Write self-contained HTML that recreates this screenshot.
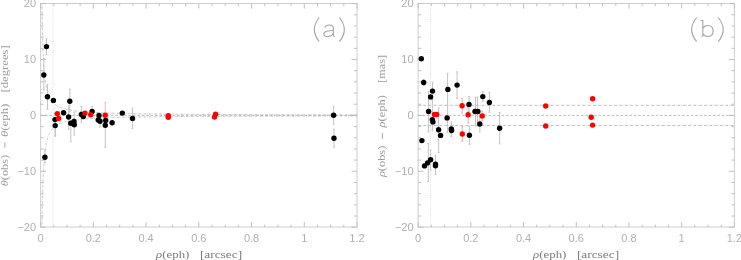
<!DOCTYPE html>
<html><head><meta charset="utf-8"><style>
html,body{margin:0;padding:0;background:#fff;}
svg{display:block;will-change:transform;}
.tl{font-family:"Liberation Sans",sans-serif;font-size:11px;fill:#b0b0b0;}
.al{font-family:"Liberation Serif",serif;font-size:11.4px;fill:#7c7c7c;}
.al2{font-family:"Liberation Serif",serif;font-size:11.4px;fill:#9c9c9c;}
.pl{font-family:"Liberation Serif",serif;font-size:26px;fill:#b0b0b0;}
</style></head><body>
<svg width="741" height="260" viewBox="0 0 741 260">
<rect width="741" height="260" fill="#fff"/>
<clipPath id="ca"><rect x="40.6" y="3.6" width="316.4" height="223.6"/></clipPath>
<clipPath id="cb"><rect x="418.1" y="3.6" width="316.29999999999995" height="223.6"/></clipPath>
<rect x="40.6" y="3.5" width="316.4" height="223.5" fill="none" stroke="#cecece" stroke-width="1"/>
<path d="M40.60 227.2v-5M40.60 3.6v5M53.78 227.2v-2.5M53.78 3.6v2.5M66.97 227.2v-2.5M66.97 3.6v2.5M80.15 227.2v-2.5M80.15 3.6v2.5M93.33 227.2v-5M93.33 3.6v5M106.52 227.2v-2.5M106.52 3.6v2.5M119.70 227.2v-2.5M119.70 3.6v2.5M132.88 227.2v-2.5M132.88 3.6v2.5M146.07 227.2v-5M146.07 3.6v5M159.25 227.2v-2.5M159.25 3.6v2.5M172.43 227.2v-2.5M172.43 3.6v2.5M185.62 227.2v-2.5M185.62 3.6v2.5M198.80 227.2v-5M198.80 3.6v5M211.98 227.2v-2.5M211.98 3.6v2.5M225.17 227.2v-2.5M225.17 3.6v2.5M238.35 227.2v-2.5M238.35 3.6v2.5M251.53 227.2v-5M251.53 3.6v5M264.72 227.2v-2.5M264.72 3.6v2.5M277.90 227.2v-2.5M277.90 3.6v2.5M291.08 227.2v-2.5M291.08 3.6v2.5M304.27 227.2v-5M304.27 3.6v5M317.45 227.2v-2.5M317.45 3.6v2.5M330.63 227.2v-2.5M330.63 3.6v2.5M343.82 227.2v-2.5M343.82 3.6v2.5M357.00 227.2v-5M357.00 3.6v5M40.6 227.20h5.5M357.0 227.20h-5.5M40.6 216.02h3M357.0 216.02h-3M40.6 204.84h3M357.0 204.84h-3M40.6 193.66h3M357.0 193.66h-3M40.6 182.48h3M357.0 182.48h-3M40.6 171.30h5.5M357.0 171.30h-5.5M40.6 160.12h3M357.0 160.12h-3M40.6 148.94h3M357.0 148.94h-3M40.6 137.76h3M357.0 137.76h-3M40.6 126.58h3M357.0 126.58h-3M40.6 115.40h5.5M357.0 115.40h-5.5M40.6 104.22h3M357.0 104.22h-3M40.6 93.04h3M357.0 93.04h-3M40.6 81.86h3M357.0 81.86h-3M40.6 70.68h3M357.0 70.68h-3M40.6 59.50h5.5M357.0 59.50h-5.5M40.6 48.32h3M357.0 48.32h-3M40.6 37.14h3M357.0 37.14h-3M40.6 25.96h3M357.0 25.96h-3M40.6 14.78h3M357.0 14.78h-3M40.6 3.60h5.5M357.0 3.60h-5.5" stroke="#c0c0c0" stroke-width="1" fill="none"/>
<text x="40.60" y="241.8" class="tl" text-anchor="middle">0</text>
<text x="93.33" y="241.8" class="tl" text-anchor="middle">0.2</text>
<text x="146.07" y="241.8" class="tl" text-anchor="middle">0.4</text>
<text x="198.80" y="241.8" class="tl" text-anchor="middle">0.6</text>
<text x="251.53" y="241.8" class="tl" text-anchor="middle">0.8</text>
<text x="304.27" y="241.8" class="tl" text-anchor="middle">1</text>
<text x="357.00" y="241.8" class="tl" text-anchor="middle">1.2</text>
<text x="36.10" y="7.40" class="tl" text-anchor="end">20</text>
<text x="36.10" y="63.30" class="tl" text-anchor="end">10</text>
<text x="36.10" y="119.20" class="tl" text-anchor="end">0</text>
<text x="36.10" y="175.10" class="tl" text-anchor="end">−10</text>
<text x="36.10" y="231.00" class="tl" text-anchor="end">−20</text>
<g clip-path="url(#ca)">
<line x1="52.99" y1="3.6" x2="52.99" y2="227.2" stroke="#d4d4d4" stroke-width="0.8" stroke-dasharray="1 1.2"/>
<line x1="40.6" y1="115.40" x2="357.0" y2="115.40" stroke="#b4b4b4" stroke-width="0.9" stroke-dasharray="2.6 1.8"/>
<polyline points="41.99,0.81 42.02,3.05 42.05,5.25 42.07,7.41 42.10,9.53 42.13,11.61 42.16,13.64 42.20,15.64 42.23,17.59 42.26,19.51 42.29,21.39 42.33,23.24 42.36,25.04 42.40,26.81 42.43,28.55 42.47,30.25 42.51,31.92 42.55,33.56 42.58,35.17 42.62,36.74 42.66,38.28 42.71,39.79 42.75,41.28 42.79,42.73 42.83,44.15 42.88,45.55 42.92,46.92 42.97,48.26 43.02,49.58 43.07,50.87 43.12,52.14 43.17,53.38 43.22,54.59 43.27,55.78 43.32,56.95 43.38,58.10 43.43,59.22 43.49,60.32 43.55,61.40 43.61,62.46 43.67,63.50 43.73,64.52 43.79,65.52 43.85,66.49 43.92,67.45 43.99,68.39 44.05,69.32 44.12,70.22 44.19,71.10 44.27,71.97 44.34,72.82 44.41,73.66 44.49,74.48 44.57,75.28 44.65,76.07 44.73,76.84 44.81,77.59 44.89,78.34 44.98,79.06 45.07,79.77 45.16,80.47 45.25,81.16 45.34,81.83 45.44,82.49 45.53,83.13 45.63,83.77 45.73,84.39 45.84,84.99 45.94,85.59 46.05,86.18 46.16,86.75 46.27,87.31 46.38,87.86 46.50,88.40 46.61,88.93 46.73,89.45 46.86,89.96 46.98,90.46 47.11,90.95 47.24,91.43 47.37,91.90 47.51,92.36 47.65,92.81 47.79,93.25 47.93,93.69 48.08,94.11 48.23,94.53 48.38,94.94 48.53,95.34 48.69,95.73 48.86,96.12 49.02,96.50 49.19,96.87 49.36,97.23 49.54,97.59 49.71,97.94 49.90,98.28 50.08,98.61 50.27,98.94 50.47,99.27 50.66,99.58 50.86,99.89 51.07,100.20 51.28,100.49 51.49,100.79 51.71,101.07 51.93,101.35 52.16,101.63 52.39,101.90 52.63,102.16 52.87,102.42 53.11,102.68 53.36,102.93 53.62,103.17 53.88,103.41 54.14,103.65 54.41,103.88 54.69,104.10 54.97,104.32 55.26,104.54 55.55,104.76 55.85,104.96 56.16,105.17 56.47,105.37 56.79,105.57 57.11,105.76 57.44,105.95 57.78,106.13 58.12,106.31 58.47,106.49 58.83,106.67 59.19,106.84 59.56,107.01 59.94,107.17 60.33,107.33 60.73,107.49 61.13,107.65 61.54,107.80 61.96,107.95 62.38,108.09 62.82,108.24 63.26,108.38 63.72,108.51 64.18,108.65 64.65,108.78 65.13,108.91 65.62,109.04 66.12,109.16 66.63,109.29 67.16,109.41 67.69,109.52 68.23,109.64 68.78,109.75 69.34,109.86 69.92,109.97 70.51,110.08 71.10,110.18 71.71,110.28 72.34,110.38 72.97,110.48 73.62,110.58 74.28,110.67 74.95,110.77 75.64,110.86 76.34,110.95 77.05,111.03 77.78,111.12 78.53,111.20 79.29,111.29 80.06,111.37 80.85,111.45 81.65,111.52 82.47,111.60 83.31,111.67 84.17,111.75 85.04,111.82 85.93,111.89 86.83,111.96 87.76,112.02 88.70,112.09 89.66,112.16 90.64,112.22 91.65,112.28 92.67,112.34 93.71,112.40 94.77,112.46 95.85,112.52 96.96,112.58 98.09,112.63 99.24,112.69 100.41,112.74 101.60,112.79 102.82,112.84 104.07,112.89 105.34,112.94 106.63,112.99 107.95,113.04 109.30,113.08 110.67,113.13 112.08,113.17 113.51,113.22 114.96,113.26 116.45,113.30 117.97,113.34 119.52,113.38 121.09,113.42 122.70,113.46 124.35,113.50 126.02,113.54 127.73,113.57 129.47,113.61 131.25,113.64 133.06,113.68 134.91,113.71 136.80,113.75 138.72,113.78 140.68,113.81 142.69,113.84 144.73,113.87 146.81,113.90 148.93,113.93 151.10,113.96 153.31,113.99 155.56,114.02 157.86,114.04 160.21,114.07 162.60,114.10 165.04,114.12 167.53,114.15 170.07,114.17 172.66,114.19 175.30,114.22 177.99,114.24 180.74,114.26 183.54,114.29 186.40,114.31 189.32,114.33 192.29,114.35 195.33,114.37 198.42,114.39 201.58,114.41 204.80,114.43 208.08,114.45 211.43,114.47 214.85,114.49 218.33,114.50 221.89,114.52 225.51,114.54 229.21,114.56 232.98,114.57 236.83,114.59 240.76,114.60 244.76,114.62 248.84,114.64 253.01,114.65 257.26,114.67 261.59,114.68 266.01,114.69 270.52,114.71 275.11,114.72 279.80,114.73 284.59,114.75 289.47,114.76 294.45,114.77 299.52,114.79 304.70,114.80 309.98,114.81 315.37,114.82 320.87,114.83 326.47,114.84 332.19,114.85 338.02,114.86 343.97,114.88 350.04,114.89 356.23,114.90 357.00,114.90" fill="none" stroke="#b4b4b4" stroke-width="0.8" stroke-dasharray="2.6 0.9 0.5 1.3"/>
<polyline points="41.99,229.99 42.02,227.75 42.05,225.55 42.07,223.39 42.10,221.27 42.13,219.19 42.16,217.16 42.20,215.16 42.23,213.21 42.26,211.29 42.29,209.41 42.33,207.56 42.36,205.76 42.40,203.99 42.43,202.25 42.47,200.55 42.51,198.88 42.55,197.24 42.58,195.63 42.62,194.06 42.66,192.52 42.71,191.01 42.75,189.52 42.79,188.07 42.83,186.65 42.88,185.25 42.92,183.88 42.97,182.54 43.02,181.22 43.07,179.93 43.12,178.66 43.17,177.42 43.22,176.21 43.27,175.02 43.32,173.85 43.38,172.70 43.43,171.58 43.49,170.48 43.55,169.40 43.61,168.34 43.67,167.30 43.73,166.28 43.79,165.28 43.85,164.31 43.92,163.35 43.99,162.41 44.05,161.48 44.12,160.58 44.19,159.70 44.27,158.83 44.34,157.98 44.41,157.14 44.49,156.32 44.57,155.52 44.65,154.73 44.73,153.96 44.81,153.21 44.89,152.46 44.98,151.74 45.07,151.03 45.16,150.33 45.25,149.64 45.34,148.97 45.44,148.31 45.53,147.67 45.63,147.03 45.73,146.41 45.84,145.81 45.94,145.21 46.05,144.62 46.16,144.05 46.27,143.49 46.38,142.94 46.50,142.40 46.61,141.87 46.73,141.35 46.86,140.84 46.98,140.34 47.11,139.85 47.24,139.37 47.37,138.90 47.51,138.44 47.65,137.99 47.79,137.55 47.93,137.11 48.08,136.69 48.23,136.27 48.38,135.86 48.53,135.46 48.69,135.07 48.86,134.68 49.02,134.30 49.19,133.93 49.36,133.57 49.54,133.21 49.71,132.86 49.90,132.52 50.08,132.19 50.27,131.86 50.47,131.53 50.66,131.22 50.86,130.91 51.07,130.60 51.28,130.31 51.49,130.01 51.71,129.73 51.93,129.45 52.16,129.17 52.39,128.90 52.63,128.64 52.87,128.38 53.11,128.12 53.36,127.87 53.62,127.63 53.88,127.39 54.14,127.15 54.41,126.92 54.69,126.70 54.97,126.48 55.26,126.26 55.55,126.04 55.85,125.84 56.16,125.63 56.47,125.43 56.79,125.23 57.11,125.04 57.44,124.85 57.78,124.67 58.12,124.49 58.47,124.31 58.83,124.13 59.19,123.96 59.56,123.79 59.94,123.63 60.33,123.47 60.73,123.31 61.13,123.15 61.54,123.00 61.96,122.85 62.38,122.71 62.82,122.56 63.26,122.42 63.72,122.29 64.18,122.15 64.65,122.02 65.13,121.89 65.62,121.76 66.12,121.64 66.63,121.51 67.16,121.39 67.69,121.28 68.23,121.16 68.78,121.05 69.34,120.94 69.92,120.83 70.51,120.72 71.10,120.62 71.71,120.52 72.34,120.42 72.97,120.32 73.62,120.22 74.28,120.13 74.95,120.03 75.64,119.94 76.34,119.85 77.05,119.77 77.78,119.68 78.53,119.60 79.29,119.51 80.06,119.43 80.85,119.35 81.65,119.28 82.47,119.20 83.31,119.13 84.17,119.05 85.04,118.98 85.93,118.91 86.83,118.84 87.76,118.78 88.70,118.71 89.66,118.64 90.64,118.58 91.65,118.52 92.67,118.46 93.71,118.40 94.77,118.34 95.85,118.28 96.96,118.22 98.09,118.17 99.24,118.11 100.41,118.06 101.60,118.01 102.82,117.96 104.07,117.91 105.34,117.86 106.63,117.81 107.95,117.76 109.30,117.72 110.67,117.67 112.08,117.63 113.51,117.58 114.96,117.54 116.45,117.50 117.97,117.46 119.52,117.42 121.09,117.38 122.70,117.34 124.35,117.30 126.02,117.26 127.73,117.23 129.47,117.19 131.25,117.16 133.06,117.12 134.91,117.09 136.80,117.05 138.72,117.02 140.68,116.99 142.69,116.96 144.73,116.93 146.81,116.90 148.93,116.87 151.10,116.84 153.31,116.81 155.56,116.78 157.86,116.76 160.21,116.73 162.60,116.70 165.04,116.68 167.53,116.65 170.07,116.63 172.66,116.61 175.30,116.58 177.99,116.56 180.74,116.54 183.54,116.51 186.40,116.49 189.32,116.47 192.29,116.45 195.33,116.43 198.42,116.41 201.58,116.39 204.80,116.37 208.08,116.35 211.43,116.33 214.85,116.31 218.33,116.30 221.89,116.28 225.51,116.26 229.21,116.24 232.98,116.23 236.83,116.21 240.76,116.20 244.76,116.18 248.84,116.16 253.01,116.15 257.26,116.13 261.59,116.12 266.01,116.11 270.52,116.09 275.11,116.08 279.80,116.07 284.59,116.05 289.47,116.04 294.45,116.03 299.52,116.01 304.70,116.00 309.98,115.99 315.37,115.98 320.87,115.97 326.47,115.96 332.19,115.95 338.02,115.94 343.97,115.92 350.04,115.91 356.23,115.90 357.00,115.90" fill="none" stroke="#b4b4b4" stroke-width="0.8" stroke-dasharray="2.6 0.9 0.5 1.3"/>
</g>
<path d="M46.50 38.70V54.60M45.60 38.70h1.8M45.60 54.60h1.8" stroke="#c4c4c4" stroke-width="1" fill="none"/>
<path d="M43.80 58.50V90.00M42.90 58.50h1.8M42.90 90.00h1.8" stroke="#c4c4c4" stroke-width="1" fill="none"/>
<path d="M47.50 84.50V109.30M46.60 84.50h1.8M46.60 109.30h1.8" stroke="#c4c4c4" stroke-width="1" fill="none"/>
<path d="M69.80 89.20V112.00M68.90 89.20h1.8M68.90 112.00h1.8" stroke="#c4c4c4" stroke-width="1" fill="none"/>
<path d="M55.20 114.00V136.30M54.30 114.00h1.8M54.30 136.30h1.8" stroke="#c4c4c4" stroke-width="1" fill="none"/>
<path d="M70.80 123.00V141.80M69.90 123.00h1.8M69.90 141.80h1.8" stroke="#c4c4c4" stroke-width="1" fill="none"/>
<path d="M74.20 112.00V135.10M73.30 112.00h1.8M73.30 135.10h1.8" stroke="#c4c4c4" stroke-width="1" fill="none"/>
<path d="M68.60 106.00V129.30M67.70 106.00h1.8M67.70 129.30h1.8" stroke="#c4c4c4" stroke-width="1" fill="none"/>
<path d="M100.00 115.00V127.00M99.10 115.00h1.8M99.10 127.00h1.8" stroke="#c4c4c4" stroke-width="1" fill="none"/>
<path d="M81.40 106.40V122.40M80.50 106.40h1.8M80.50 122.40h1.8" stroke="#c4c4c4" stroke-width="1" fill="none"/>
<path d="M92.10 106.40V116.00M91.20 106.40h1.8M91.20 116.00h1.8" stroke="#c4c4c4" stroke-width="1" fill="none"/>
<path d="M105.30 115.00V147.30M104.40 115.00h1.8M104.40 147.30h1.8" stroke="#c4c4c4" stroke-width="1" fill="none"/>
<path d="M132.50 108.10V128.50M131.60 108.10h1.8M131.60 128.50h1.8" stroke="#c4c4c4" stroke-width="1" fill="none"/>
<path d="M333.60 106.30V124.40M332.70 106.30h1.8M332.70 124.40h1.8" stroke="#c4c4c4" stroke-width="1" fill="none"/>
<path d="M334.00 129.20V147.30M333.10 129.20h1.8M333.10 147.30h1.8" stroke="#c4c4c4" stroke-width="1" fill="none"/>
<path d="M44.90 150.00V162.70M44.00 150.00h1.8M44.00 162.70h1.8" stroke="#c4c4c4" stroke-width="1" fill="none"/>
<path d="M55.30 125.00V135.60M54.40 125.00h1.8M54.40 135.60h1.8" stroke="#c4c4c4" stroke-width="1" fill="none"/>
<path d="M105.20 102.60V116.00M104.30 102.60h1.8M104.30 116.00h1.8" stroke="#ecb6b6" stroke-width="1" fill="none"/>
<circle cx="46.50" cy="46.60" r="2.7" fill="#000"/>
<circle cx="43.80" cy="75.00" r="2.7" fill="#000"/>
<circle cx="47.50" cy="96.80" r="2.7" fill="#000"/>
<circle cx="53.40" cy="100.40" r="2.7" fill="#000"/>
<circle cx="69.80" cy="101.20" r="2.7" fill="#000"/>
<circle cx="63.60" cy="112.80" r="2.7" fill="#000"/>
<circle cx="68.60" cy="117.00" r="2.7" fill="#000"/>
<circle cx="55.00" cy="119.60" r="2.7" fill="#000"/>
<circle cx="55.20" cy="125.60" r="2.7" fill="#000"/>
<circle cx="70.80" cy="123.20" r="2.7" fill="#000"/>
<circle cx="74.00" cy="121.50" r="2.7" fill="#000"/>
<circle cx="74.30" cy="124.70" r="2.7" fill="#000"/>
<circle cx="81.40" cy="114.40" r="2.7" fill="#000"/>
<circle cx="83.30" cy="116.60" r="2.7" fill="#000"/>
<circle cx="92.10" cy="111.40" r="2.7" fill="#000"/>
<circle cx="99.00" cy="115.50" r="2.7" fill="#000"/>
<circle cx="98.20" cy="119.90" r="2.7" fill="#000"/>
<circle cx="100.00" cy="121.30" r="2.7" fill="#000"/>
<circle cx="105.70" cy="120.50" r="2.7" fill="#000"/>
<circle cx="105.30" cy="125.30" r="2.7" fill="#000"/>
<circle cx="112.10" cy="122.80" r="2.7" fill="#000"/>
<circle cx="122.30" cy="113.10" r="2.7" fill="#000"/>
<circle cx="132.50" cy="118.40" r="2.7" fill="#000"/>
<circle cx="333.60" cy="115.30" r="2.7" fill="#000"/>
<circle cx="334.00" cy="138.20" r="2.7" fill="#000"/>
<circle cx="44.90" cy="157.30" r="2.7" fill="#000"/>
<circle cx="57.30" cy="113.60" r="2.7" fill="#f00"/>
<circle cx="58.60" cy="118.40" r="2.7" fill="#f00"/>
<circle cx="85.00" cy="113.10" r="2.7" fill="#f00"/>
<circle cx="90.70" cy="114.70" r="2.7" fill="#f00"/>
<circle cx="105.20" cy="115.30" r="2.7" fill="#f00"/>
<circle cx="168.30" cy="115.80" r="2.7" fill="#f00"/>
<circle cx="168.30" cy="117.20" r="2.7" fill="#f00"/>
<circle cx="215.60" cy="114.30" r="2.7" fill="#f00"/>
<circle cx="214.50" cy="117.10" r="2.7" fill="#f00"/>
<path d="M319.2 17.5Q309.6 29.6 319.2 41.7M339.4 17.5Q349.2 29.6 339.4 41.7M324.8 27.6C325.4 25.8 327 25 329 25C331.6 25 333.4 26.1 333.4 28.4L333.4 35.2C333.4 36 333.9 36.4 334.9 36.3M333.4 30.2C331.5 30.9 328.8 30.6 326.4 31.2C324.6 31.7 323.8 32.6 323.8 34C323.8 35.6 325.2 36.6 327.4 36.6C330.2 36.6 333.4 35.2 333.4 32.6" fill="none" stroke="#a6a6a6" stroke-width="1.1"/>
<rect x="418.1" y="3.5" width="316.29999999999995" height="223.5" fill="none" stroke="#cecece" stroke-width="1"/>
<path d="M418.10 227.2v-5M418.10 3.6v5M431.28 227.2v-2.5M431.28 3.6v2.5M444.46 227.2v-2.5M444.46 3.6v2.5M457.64 227.2v-2.5M457.64 3.6v2.5M470.82 227.2v-5M470.82 3.6v5M484.00 227.2v-2.5M484.00 3.6v2.5M497.18 227.2v-2.5M497.18 3.6v2.5M510.35 227.2v-2.5M510.35 3.6v2.5M523.53 227.2v-5M523.53 3.6v5M536.71 227.2v-2.5M536.71 3.6v2.5M549.89 227.2v-2.5M549.89 3.6v2.5M563.07 227.2v-2.5M563.07 3.6v2.5M576.25 227.2v-5M576.25 3.6v5M589.43 227.2v-2.5M589.43 3.6v2.5M602.61 227.2v-2.5M602.61 3.6v2.5M615.79 227.2v-2.5M615.79 3.6v2.5M628.97 227.2v-5M628.97 3.6v5M642.15 227.2v-2.5M642.15 3.6v2.5M655.33 227.2v-2.5M655.33 3.6v2.5M668.50 227.2v-2.5M668.50 3.6v2.5M681.68 227.2v-5M681.68 3.6v5M694.86 227.2v-2.5M694.86 3.6v2.5M708.04 227.2v-2.5M708.04 3.6v2.5M721.22 227.2v-2.5M721.22 3.6v2.5M734.40 227.2v-5M734.40 3.6v5M418.1 227.20h5.5M734.4 227.20h-5.5M418.1 216.02h3M734.4 216.02h-3M418.1 204.84h3M734.4 204.84h-3M418.1 193.66h3M734.4 193.66h-3M418.1 182.48h3M734.4 182.48h-3M418.1 171.30h5.5M734.4 171.30h-5.5M418.1 160.12h3M734.4 160.12h-3M418.1 148.94h3M734.4 148.94h-3M418.1 137.76h3M734.4 137.76h-3M418.1 126.58h3M734.4 126.58h-3M418.1 115.40h5.5M734.4 115.40h-5.5M418.1 104.22h3M734.4 104.22h-3M418.1 93.04h3M734.4 93.04h-3M418.1 81.86h3M734.4 81.86h-3M418.1 70.68h3M734.4 70.68h-3M418.1 59.50h5.5M734.4 59.50h-5.5M418.1 48.32h3M734.4 48.32h-3M418.1 37.14h3M734.4 37.14h-3M418.1 25.96h3M734.4 25.96h-3M418.1 14.78h3M734.4 14.78h-3M418.1 3.60h5.5M734.4 3.60h-5.5" stroke="#c0c0c0" stroke-width="1" fill="none"/>
<text x="418.10" y="241.8" class="tl" text-anchor="middle">0</text>
<text x="470.82" y="241.8" class="tl" text-anchor="middle">0.2</text>
<text x="523.53" y="241.8" class="tl" text-anchor="middle">0.4</text>
<text x="576.25" y="241.8" class="tl" text-anchor="middle">0.6</text>
<text x="628.97" y="241.8" class="tl" text-anchor="middle">0.8</text>
<text x="681.68" y="241.8" class="tl" text-anchor="middle">1</text>
<text x="734.40" y="241.8" class="tl" text-anchor="middle">1.2</text>
<text x="413.60" y="7.40" class="tl" text-anchor="end">20</text>
<text x="413.60" y="63.30" class="tl" text-anchor="end">10</text>
<text x="413.60" y="119.20" class="tl" text-anchor="end">0</text>
<text x="413.60" y="175.10" class="tl" text-anchor="end">−10</text>
<text x="413.60" y="231.00" class="tl" text-anchor="end">−20</text>
<g clip-path="url(#cb)">
<line x1="430.49" y1="3.6" x2="430.49" y2="227.2" stroke="#d4d4d4" stroke-width="0.8" stroke-dasharray="1 1.2"/>
<line x1="418.1" y1="115.40" x2="734.4" y2="115.40" stroke="#b4b4b4" stroke-width="0.9" stroke-dasharray="2.6 1.8"/>
<line x1="418.1" y1="105.34" x2="734.4" y2="105.34" stroke="#b4b4b4" stroke-width="0.9" stroke-dasharray="2.6 0.9 0.5 1.3"/>
<line x1="418.1" y1="125.46" x2="734.4" y2="125.46" stroke="#b4b4b4" stroke-width="0.9" stroke-dasharray="2.6 0.9 0.5 1.3"/>
</g>
<path d="M432.50 82.20V100.00M431.60 82.20h1.8M431.60 100.00h1.8" stroke="#c4c4c4" stroke-width="1" fill="none"/>
<path d="M447.60 73.30V132.50M446.70 73.30h1.8M446.70 132.50h1.8" stroke="#c4c4c4" stroke-width="1" fill="none"/>
<path d="M457.10 71.90V98.40M456.20 71.90h1.8M456.20 98.40h1.8" stroke="#c4c4c4" stroke-width="1" fill="none"/>
<path d="M469.00 96.60V112.00M468.10 96.60h1.8M468.10 112.00h1.8" stroke="#c4c4c4" stroke-width="1" fill="none"/>
<path d="M482.80 91.50V101.50M481.90 91.50h1.8M481.90 101.50h1.8" stroke="#c4c4c4" stroke-width="1" fill="none"/>
<path d="M489.40 92.30V112.30M488.50 92.30h1.8M488.50 112.30h1.8" stroke="#c4c4c4" stroke-width="1" fill="none"/>
<path d="M428.50 91.50V132.00M427.60 91.50h1.8M427.60 132.00h1.8" stroke="#c4c4c4" stroke-width="1" fill="none"/>
<path d="M428.30 143.50V181.50M427.40 143.50h1.8M427.40 181.50h1.8" stroke="#c4c4c4" stroke-width="1" fill="none"/>
<path d="M432.40 100.00V130.20M431.50 100.00h1.8M431.50 130.20h1.8" stroke="#c4c4c4" stroke-width="1" fill="none"/>
<path d="M479.80 115.00V131.90M478.90 115.00h1.8M478.90 131.90h1.8" stroke="#c4c4c4" stroke-width="1" fill="none"/>
<path d="M423.70 79.50V85.50M422.80 79.50h1.8M422.80 85.50h1.8" stroke="#c4c4c4" stroke-width="1" fill="none"/>
<path d="M438.60 108.10V152.50M437.70 108.10h1.8M437.70 152.50h1.8" stroke="#c4c4c4" stroke-width="1" fill="none"/>
<path d="M451.30 121.90V136.50M450.40 121.90h1.8M450.40 136.50h1.8" stroke="#c4c4c4" stroke-width="1" fill="none"/>
<path d="M469.40 126.20V144.40M468.50 126.20h1.8M468.50 144.40h1.8" stroke="#c4c4c4" stroke-width="1" fill="none"/>
<path d="M499.60 112.50V143.80M498.70 112.50h1.8M498.70 143.80h1.8" stroke="#c4c4c4" stroke-width="1" fill="none"/>
<path d="M430.60 150.00V170.00M429.70 150.00h1.8M429.70 170.00h1.8" stroke="#c4c4c4" stroke-width="1" fill="none"/>
<path d="M435.50 155.20V174.40M434.60 155.20h1.8M434.60 174.40h1.8" stroke="#c4c4c4" stroke-width="1" fill="none"/>
<path d="M475.50 97.10V126.00M474.60 97.10h1.8M474.60 126.00h1.8" stroke="#c4c4c4" stroke-width="1" fill="none"/>
<path d="M477.50 97.10V126.00M476.60 97.10h1.8M476.60 126.00h1.8" stroke="#c4c4c4" stroke-width="1" fill="none"/>
<path d="M462.10 98.60V113.30M461.20 98.60h1.8M461.20 113.30h1.8" stroke="#f2a8a8" stroke-width="1" fill="none"/>
<path d="M468.10 107.00V123.00M467.20 107.00h1.8M467.20 123.00h1.8" stroke="#f2a8a8" stroke-width="1" fill="none"/>
<path d="M482.20 111.00V120.80M481.30 111.00h1.8M481.30 120.80h1.8" stroke="#f2a8a8" stroke-width="1" fill="none"/>
<path d="M462.30 126.70V141.10M461.40 126.70h1.8M461.40 141.10h1.8" stroke="#f2a8a8" stroke-width="1" fill="none"/>
<circle cx="421.30" cy="58.70" r="2.7" fill="#000"/>
<circle cx="423.70" cy="82.50" r="2.7" fill="#000"/>
<circle cx="432.50" cy="91.10" r="2.7" fill="#000"/>
<circle cx="430.60" cy="96.90" r="2.7" fill="#000"/>
<circle cx="447.90" cy="89.40" r="2.7" fill="#000"/>
<circle cx="457.10" cy="85.10" r="2.7" fill="#000"/>
<circle cx="469.00" cy="104.40" r="2.7" fill="#000"/>
<circle cx="482.80" cy="96.60" r="2.7" fill="#000"/>
<circle cx="489.40" cy="102.50" r="2.7" fill="#000"/>
<circle cx="428.60" cy="111.50" r="2.7" fill="#000"/>
<circle cx="432.30" cy="119.60" r="2.7" fill="#000"/>
<circle cx="432.90" cy="121.90" r="2.7" fill="#000"/>
<circle cx="447.10" cy="117.90" r="2.7" fill="#000"/>
<circle cx="475.00" cy="111.50" r="2.7" fill="#000"/>
<circle cx="477.90" cy="111.50" r="2.7" fill="#000"/>
<circle cx="479.80" cy="124.00" r="2.7" fill="#000"/>
<circle cx="421.90" cy="140.60" r="2.7" fill="#000"/>
<circle cx="438.60" cy="129.80" r="2.7" fill="#000"/>
<circle cx="440.60" cy="135.40" r="2.7" fill="#000"/>
<circle cx="451.30" cy="129.00" r="2.7" fill="#000"/>
<circle cx="451.60" cy="130.50" r="2.7" fill="#000"/>
<circle cx="469.40" cy="135.20" r="2.7" fill="#000"/>
<circle cx="499.60" cy="128.30" r="2.7" fill="#000"/>
<circle cx="424.50" cy="165.90" r="2.7" fill="#000"/>
<circle cx="427.50" cy="162.90" r="2.7" fill="#000"/>
<circle cx="430.60" cy="159.80" r="2.7" fill="#000"/>
<circle cx="435.50" cy="164.10" r="2.7" fill="#000"/>
<circle cx="435.50" cy="165.70" r="2.7" fill="#000"/>
<circle cx="434.50" cy="114.50" r="2.7" fill="#f00"/>
<circle cx="436.70" cy="114.50" r="2.7" fill="#f00"/>
<circle cx="462.10" cy="105.80" r="2.7" fill="#f00"/>
<circle cx="468.10" cy="114.80" r="2.7" fill="#f00"/>
<circle cx="482.20" cy="115.90" r="2.7" fill="#f00"/>
<circle cx="462.30" cy="134.00" r="2.7" fill="#f00"/>
<circle cx="545.70" cy="106.00" r="2.7" fill="#f00"/>
<circle cx="545.70" cy="126.00" r="2.7" fill="#f00"/>
<circle cx="592.60" cy="98.80" r="2.7" fill="#f00"/>
<circle cx="591.20" cy="117.20" r="2.7" fill="#f00"/>
<circle cx="592.60" cy="125.10" r="2.7" fill="#f00"/>
<path d="M696.7 17.5Q686.7 29.6 696.7 41.7M718.2 17.5Q728.2 29.6 718.2 41.7M700.4 20.5H702.8V36.4M701.6 36.6L702.8 35.6M702.8 28.5C703.8 26.5 705.5 25.5 707.6 25.5C711 25.5 713.1 27.8 713.1 31C713.1 34.3 711 36.5 707.6 36.5C705.5 36.5 703.8 35.5 702.8 33.6" fill="none" stroke="#a6a6a6" stroke-width="1.1"/>
<text x="156.0" y="258.3" class="al" textLength="33.4" lengthAdjust="spacingAndGlyphs"><tspan font-style="italic">ρ</tspan>(eph)</text>
<text x="199.9" y="258.3" class="al" textLength="42.2" lengthAdjust="spacingAndGlyphs">[arcsec]</text>
<text x="533.0" y="258.3" class="al" textLength="33.4" lengthAdjust="spacingAndGlyphs"><tspan font-style="italic">ρ</tspan>(eph)</text>
<text x="576.9" y="258.3" class="al" textLength="42.2" lengthAdjust="spacingAndGlyphs">[arcsec]</text>
<text transform="translate(7.6 186.2) rotate(-90)" class="al2" textLength="31.4" lengthAdjust="spacingAndGlyphs"><tspan font-style="italic">θ</tspan>(obs)</text>
<text transform="translate(7.6 137.0) rotate(-90)" class="al2" textLength="33.4" lengthAdjust="spacingAndGlyphs"><tspan font-style="italic">θ</tspan>(eph)</text>
<text transform="translate(7.6 92.6) rotate(-90)" class="al2" textLength="47.4" lengthAdjust="spacingAndGlyphs">[degrees]</text>
<line x1="4.9" y1="142.2" x2="4.9" y2="147.7" stroke="#a0a0a0" stroke-width="0.9"/>
<text transform="translate(385.2 177.1) rotate(-90)" class="al2" textLength="31.4" lengthAdjust="spacingAndGlyphs"><tspan font-style="italic">ρ</tspan>(obs)</text>
<text transform="translate(385.2 127.4) rotate(-90)" class="al2" textLength="32.4" lengthAdjust="spacingAndGlyphs"><tspan font-style="italic">ρ</tspan>(eph)</text>
<text transform="translate(385.2 82.8) rotate(-90)" class="al2" textLength="27.8" lengthAdjust="spacingAndGlyphs">[mas]</text>
<line x1="382.4" y1="132.8" x2="382.4" y2="139.1" stroke="#a0a0a0" stroke-width="0.9"/>
</svg>
</body></html>
